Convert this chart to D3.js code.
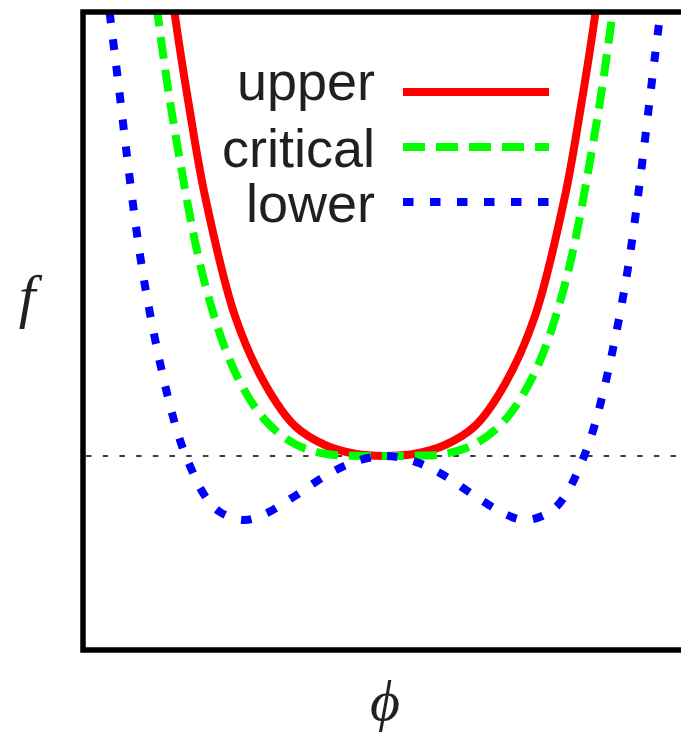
<!DOCTYPE html>
<html>
<head>
<meta charset="utf-8">
<script src="https://cdn.jsdelivr.net/npm/d3@7"></script>
<style>
  body { margin: 0; background: #fff; }
  svg { display: block; }
</style>
</head>
<body>
<div id="viz"></div>
<script>
// order parameter phi and free energy f
var phiUpper = [-0.73, -0.7, -0.65, -0.6, -0.5, -0.4, -0.3, -0.2, -0.1, 0, 0.1, 0.2, 0.3, 0.4, 0.5, 0.6, 0.65, 0.7, 0.73];
var fUpper = [2.55, 2.20, 1.72, 1.30, 0.70, 0.36, 0.15, 0.055, 0.011, 0, 0.011, 0.055, 0.15, 0.36, 0.70, 1.30, 1.72, 2.20, 2.55];

var phiCritical = [-0.8, -0.757, -0.7, -0.6, -0.5, -0.4, -0.3, -0.2, -0.1, 0, 0.1, 0.2, 0.3, 0.4, 0.5, 0.6, 0.7, 0.757, 0.8];
var fCritical = [2.75, 2.2, 1.62, 0.86, 0.42, 0.18, 0.06, 0.011, 0.001, 0, 0.001, 0.011, 0.06, 0.18, 0.42, 0.86, 1.62, 2.2, 2.75];

var phiLower = [-0.95, -0.9, -0.8, -0.7, -0.65, -0.6, -0.55, -0.47, -0.4, -0.3, -0.2, -0.1, 0, 0.1, 0.2, 0.3, 0.4, 0.47, 0.55, 0.6, 0.65, 0.7, 0.8, 0.9, 0.95];
var fLower = [2.62, 2.0, 0.85, 0.16, -0.05, -0.2, -0.28, -0.32, -0.29, -0.2, -0.1, -0.028, 0, -0.028, -0.1, -0.2, -0.29, -0.32, -0.28, -0.2, -0.05, 0.16, 0.85, 2.0, 2.62];

var seriesNames = ["upper", "critical", "lower"];
var seriesColors = ["#ff0000", "#00ff00", "#0000ff"];
var seriesDash = [null, "22,11", "10.5,16.5"];

var width = 681, height = 735;

var svg = d3.select("#viz").append("svg")
    .attr("width", width)
    .attr("height", height);

var box = {left: 83, top: 12, right: 700, bottom: 650};

var x = d3.scaleLinear().domain([-1, 1]).range([85, 685]);
var y = d3.scaleLinear().domain([-0.97, 2.22]).range([box.bottom, box.top]);

var series = [
    {name: seriesNames[0], values: d3.zip(phiUpper, fUpper)},
    {name: seriesNames[1], values: d3.zip(phiCritical, fCritical)},
    {name: seriesNames[2], values: d3.zip(phiLower, fLower)}
];

svg.append("clipPath")
    .attr("id", "plotclip")
    .append("rect")
    .attr("x", box.left)
    .attr("y", box.top)
    .attr("width", box.right - box.left)
    .attr("height", box.bottom - box.top);

// f = 0 reference
svg.append("line")
    .attr("x1", box.left + 3)
    .attr("x2", width)
    .attr("y1", y(0))
    .attr("y2", y(0))
    .attr("stroke", "#000")
    .attr("stroke-width", 1.3)
    .attr("stroke-dasharray", "5.5,11.2");

var line = d3.line()
    .curve(d3.curveCatmullRom.alpha(0.5))
    .x(function(d) { return x(d[0]); })
    .y(function(d) { return y(d[1]); });

svg.append("g")
    .attr("clip-path", "url(#plotclip)")
    .selectAll("path")
    .data(series)
    .enter().append("path")
    .attr("fill", "none")
    .attr("stroke", function(d, i) { return seriesColors[i]; })
    .attr("stroke-width", 8)
    .attr("stroke-dasharray", function(d, i) { return seriesDash[i]; })
    .attr("d", function(d) { return line(d.values); });

// frame (right side lies outside the picture)
svg.append("path")
    .attr("fill", "none")
    .attr("stroke", "#000")
    .attr("stroke-width", 5.5)
    .attr("d", "M" + box.right + "," + box.top + "H" + box.left + "V" + box.bottom + "H" + box.right);

// legend
var legend = svg.append("g")
    .selectAll("g")
    .data(series)
    .enter().append("g")
    .attr("transform", function(d, i) { return "translate(0," + (92 + i * 55) + ")"; });

legend.append("line")
    .attr("x1", 403)
    .attr("x2", 549)
    .attr("stroke", function(d, i) { return seriesColors[i]; })
    .attr("stroke-width", 8)
    .attr("stroke-dasharray", function(d, i) { return seriesDash[i]; });

legend.append("text")
    .attr("x", 375)
    .attr("y", function(d, i) { return [8, 20, 20][i]; })
    .attr("text-anchor", "end")
    .attr("fill", "#231f20")
    .style("font-family", "'Liberation Sans', Arial, Helvetica, sans-serif")
    .style("font-size", "54px")
    .text(function(d) { return d.name; });

// axis labels
svg.append("text")
    .attr("x", 27)
    .attr("y", 316)
    .attr("text-anchor", "middle")
    .attr("fill", "#231f20")
    .style("font-family", "'Liberation Serif', 'DejaVu Serif', serif")
    .style("font-style", "italic")
    .style("font-size", "60px")
    .text("f");

svg.append("text")
    .attr("x", 385)
    .attr("y", 720)
    .attr("text-anchor", "middle")
    .attr("fill", "#231f20")
    .style("font-family", "'Liberation Serif', 'DejaVu Serif', serif")
    .style("font-style", "italic")
    .style("font-size", "58px")
    .text("\u03d5");
</script>
</body>
</html>
